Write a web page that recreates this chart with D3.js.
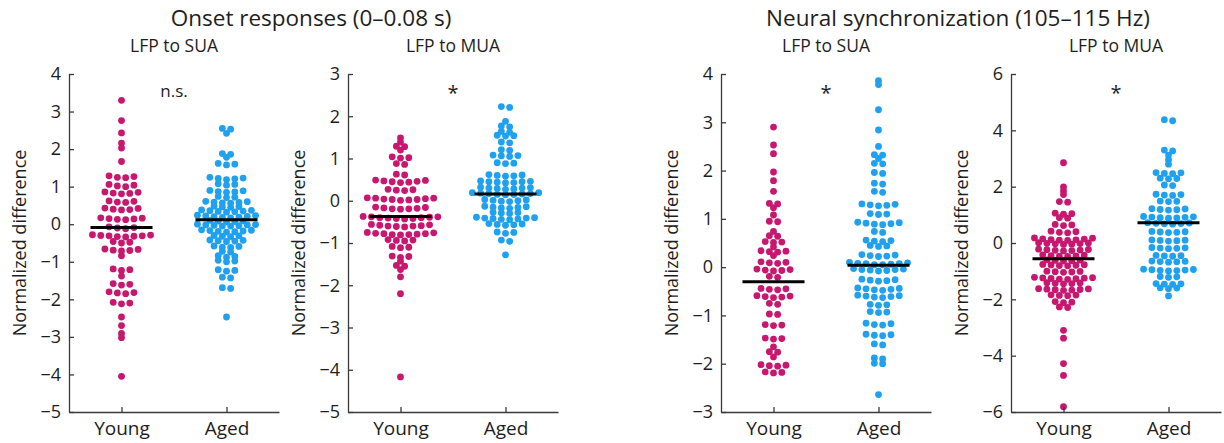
<!DOCTYPE html>
<html><head><meta charset="utf-8">
<script src="https://cdn.jsdelivr.net/npm/d3@7"></script>
<style>
body{margin:0;background:#fff}
text{font-family:"Open Sans",sans-serif;fill:#1e1e1e}
</style>
</head><body>
<svg id="c" width="1224" height="443"></svg>
<script>
// ---------- data ----------
const categories = ["Young", "Aged"];
const groupTitles = ["Onset responses (0–0.08 s)", "Neural synchronization (105–115 Hz)"];
const panelTitles = ["LFP to SUA", "LFP to MUA", "LFP to SUA", "LFP to MUA"];
const yDomains = [[-5, 4], [-5, 3], [-3, 4], [-6, 6]];
const yTicks = [
  [-5, -4, -3, -2, -1, 0, 1, 2, 3, 4],
  [-5, -4, -3, -2, -1, 0, 1, 2, 3],
  [-3, -2, -1, 0, 1, 2, 3, 4],
  [-6, -4, -2, 0, 2, 4, 6]
];
const significance = ["n.s.", "*", "*", "*"];
const medians = [[-0.09, 0.12], [-0.37, 0.16], [-0.30, 0.04], [-0.56, 0.72]];

const onsetSuaYoung = [3.30, 2.76, 2.43, 2.16, 2.03, 1.67,
  1.29, 1.27, 1.25, 1.24, 1.06, 1.04, 1.02, 1.00, 0.86, 0.85, 0.83, 0.82, 0.81,
  0.62, 0.61, 0.59, 0.58, 0.43, 0.42, 0.40, 0.39, 0.38, 0.17, 0.16, 0.15, 0.14, 0.13, 0.12,
  -0.07, -0.09, -0.10, -0.12, -0.28, -0.29, -0.30, -0.31, -0.31, -0.32, -0.33, -0.34,
  -0.46, -0.48, -0.50, -0.66, -0.67, -0.69, -0.70, -0.71, -0.84,
  -1.19, -1.21, -1.23, -1.38, -1.58, -1.60, -1.62, -1.80, -1.82, -1.83, -1.85,
  -2.08, -2.10, -2.12, -2.47, -2.70, -2.91, -3.02, -4.05];
const onsetSuaAged = [2.55, 2.53, 2.42, 1.88, 1.86, 1.78, 1.62, 1.60, 1.58,
  1.25, 1.23, 1.22, 1.21, 1.19, 1.08, 1.06, 1.04, 0.90, 0.89, 0.87, 0.86, 0.85,
  0.74, 0.72, 0.71, 0.61, 0.60, 0.59, 0.58, 0.57, 0.56, 0.48, 0.47, 0.46, 0.45,
  0.38, 0.37, 0.36, 0.35, 0.34, 0.33, 0.32, 0.24, 0.23, 0.22, 0.21, 0.20, 0.19, 0.18, 0.17,
  0.10, 0.09, 0.08, 0.07, 0.06, 0.00, -0.01, -0.02, -0.02, -0.03, -0.04, -0.05, -0.05,
  -0.15, -0.16, -0.17, -0.18, -0.19, -0.20, -0.21, -0.30, -0.31, -0.32, -0.33,
  -0.42, -0.43, -0.44, -0.45, -0.46, -0.58, -0.59, -0.61, -0.62, -0.72, -0.74,
  -0.84, -0.86, -0.88, -0.96, -0.98, -1.00, -1.21, -1.23, -1.25, -1.41, -1.43,
  -1.69, -1.71, -2.47];
const onsetMuaYoung = [1.49, 1.39, 1.29, 1.28, 1.20, 1.04, 1.02, 1.01, 0.88, 0.86, 0.63, 0.61,
  0.49, 0.48, 0.47, 0.46, 0.45, 0.44, 0.43, 0.27, 0.26, 0.25, 0.24,
  0.07, 0.06, 0.06, 0.05, 0.04, 0.03, 0.03, 0.02, 0.01,
  -0.15, -0.16, -0.17, -0.18, -0.19, -0.19, -0.20,
  -0.37, -0.38, -0.38, -0.39, -0.40, -0.40, -0.41, -0.42, -0.42, -0.43,
  -0.56, -0.57, -0.58, -0.59, -0.60, -0.60, -0.61, -0.62,
  -0.75, -0.76, -0.77, -0.78, -0.78, -0.79, -0.80, -0.80, -0.81,
  -0.92, -0.93, -0.94, -0.95, -1.08, -1.10, -1.11, -1.31, -1.32, -1.34, -1.43,
  -1.53, -1.55, -1.63, -1.80, -2.20, -4.17];
const onsetMuaAged = [2.23, 2.21, 1.88, 1.77, 1.75, 1.64, 1.62, 1.55, 1.54, 1.53,
  1.39, 1.37, 1.21, 1.19, 1.08, 1.07, 1.06, 1.05, 0.90, 0.89, 0.88,
  0.62, 0.61, 0.60, 0.59, 0.58, 0.47, 0.46, 0.45, 0.45, 0.44, 0.43, 0.42,
  0.32, 0.31, 0.30, 0.30, 0.29, 0.28, 0.27, 0.19, 0.19, 0.18, 0.17, 0.17, 0.16, 0.15, 0.15, 0.14,
  0.03, 0.02, 0.01, 0.00, -0.01, -0.02, -0.13, -0.14, -0.15, -0.16, -0.17, -0.18,
  -0.27, -0.28, -0.29, -0.30, -0.39, -0.40, -0.41, -0.41, -0.42, -0.43, -0.44, -0.45,
  -0.54, -0.55, -0.56, -0.57, -0.58, -0.74, -0.75, -0.77, -0.93, -0.96, -1.28];
const syncSuaYoung = [2.90, 2.53, 2.35, 1.97, 1.79, 1.57, 1.32, 1.31, 1.23, 1.08, 0.95, 0.94,
  0.74, 0.65, 0.64, 0.53, 0.52, 0.51, 0.42, 0.34, 0.33, 0.32, 0.31, 0.24,
  0.11, 0.10, 0.09, 0.08, -0.04, -0.05, -0.06, -0.07, -0.08, -0.19, -0.21,
  -0.44, -0.45, -0.46, -0.47, -0.59, -0.60, -0.61, -0.62, -0.63, -0.75, -0.77,
  -0.97, -0.98, -1.19, -1.20, -1.21, -1.47, -1.48, -1.49, -1.65, -1.75, -1.76, -1.86,
  -2.02, -2.03, -2.04, -2.05, -2.17, -2.18, -2.19];
const syncSuaAged = [3.86, 3.78, 3.26, 2.84, 2.50, 2.33, 2.32, 2.25, 2.15, 2.14, 1.96, 1.94,
  1.74, 1.72, 1.57, 1.55, 1.31, 1.30, 1.29, 1.28, 1.27, 1.11, 1.10, 1.09,
  0.93, 0.92, 0.91, 0.90, 0.89, 0.88, 0.74, 0.72, 0.56, 0.55, 0.54, 0.53, 0.45, 0.44, 0.43,
  0.26, 0.25, 0.24, 0.23, 0.22, 0.10, 0.09, 0.08, 0.07, 0.07, 0.06, 0.05, 0.05,
  -0.03, -0.04, -0.05, -0.05, -0.06, -0.07, -0.08, -0.25, -0.26, -0.27, -0.28, -0.29,
  -0.43, -0.44, -0.45, -0.46, -0.47, -0.48, -0.58, -0.59, -0.60, -0.61, -0.62, -0.63,
  -0.77, -0.78, -0.79, -0.92, -0.93, -0.94, -1.16, -1.17, -1.19, -1.20,
  -1.39, -1.40, -1.41, -1.42, -1.59, -1.61, -1.88, -1.90, -1.99, -2.00, -2.64];
const syncMuaYoung = [2.85, 1.99, 1.85, 1.72, 1.47, 1.45, 1.06, 1.04, 1.02, 0.90, 0.88,
  0.66, 0.64, 0.62, 0.42, 0.40, 0.38, 0.36, 0.18, 0.17, 0.15, 0.14, 0.12, 0.11, 0.10, 0.09,
  0.01, 0.00, -0.01, -0.02, -0.03, -0.04, -0.05, -0.22, -0.23, -0.24, -0.25, -0.26, -0.27, -0.28,
  -0.42, -0.43, -0.45, -0.46, -0.47, -0.48, -0.60, -0.61, -0.62, -0.63, -0.64,
  -0.76, -0.77, -0.78, -0.79, -0.80, -0.81, -1.00, -1.01, -1.02, -1.03, -1.04,
  -1.22, -1.23, -1.24, -1.25, -1.26, -1.27, -1.28, -1.29, -1.41, -1.42, -1.43, -1.44, -1.45,
  -1.62, -1.63, -1.64, -1.65, -1.66, -1.67, -1.68, -1.84, -1.85, -1.86, -1.87,
  -2.08, -2.10, -2.12, -2.27, -2.29, -3.10, -3.38, -4.28, -4.70, -5.81];
const syncMuaAged = [4.38, 4.34, 3.30, 3.27, 3.12, 2.96, 2.80, 2.50, 2.49, 2.47, 2.46,
  2.30, 2.29, 2.28, 2.06, 2.04, 1.73, 1.72, 1.70, 1.69, 1.49, 1.48, 1.47,
  1.22, 1.21, 1.19, 1.18, 1.17, 0.94, 0.93, 0.92, 0.91, 0.90, 0.89, 0.88,
  0.72, 0.71, 0.70, 0.69, 0.68, 0.67, 0.41, 0.40, 0.39, 0.38, 0.37,
  0.11, 0.10, 0.09, 0.08, 0.07, -0.16, -0.17, -0.18, -0.19, -0.20,
  -0.44, -0.45, -0.46, -0.47, -0.64, -0.65, -0.66, -0.67, -0.68,
  -0.93, -0.94, -0.95, -0.96, -0.97, -0.98, -0.99, -1.19, -1.20, -1.22,
  -1.44, -1.45, -1.46, -1.47, -1.59, -1.60, -1.62, -1.88];

const seriesByPanel = [
  [onsetSuaYoung, onsetSuaAged],
  [onsetMuaYoung, onsetMuaAged],
  [syncSuaYoung, syncSuaAged],
  [syncMuaYoung, syncMuaAged]
];

// ---------- layout / style ----------
const colors = ["#c8176f", "#1fa1ef"];
const panelX = [69, 348, 721, 1011];
const panelW = 210, plotTop = 74, plotBottom = 412;
const R = 3.4, SPACING = 8.3, ROW_PX = 3.4, HALF_LINE = 31;
const axisColor = "#3a3a3a";
const fmt = d3.format("d");

const svg = d3.select("#c");

function swarm(values, y, cx) {
  const pts = values.map(v => ({v, py: y(v)})).sort((a, b) => a.py - b.py);
  const rows = []; let cur = null;
  pts.forEach(p => {
    if (!cur || p.py - cur.start > ROW_PX) { cur = {start: p.py, items: []}; rows.push(cur); }
    cur.items.push(p);
  });
  rows.forEach(r => {
    const n = r.items.length;
    const order = [];
    for (let i = 0; i < n; i++) order.push(i % 2 === 0 ? i / 2 : n - 1 - (i - 1) / 2);
    r.items.forEach((p, i) => { p.px = cx + (order[i] - (n - 1) / 2) * SPACING; });
  });
  return pts;
}

seriesByPanel.forEach((series, pi) => {
  const x0 = panelX[pi];
  const x = d3.scalePoint().domain(categories).range([x0, x0 + panelW]).padding(0.5);
  const y = d3.scaleLinear().domain(yDomains[pi]).range([plotBottom, plotTop]);
  const g = svg.append("g");

  series.forEach((vals, ci) => {
    const pts = swarm(vals, y, x(categories[ci]));
    g.append("g").selectAll("circle").data(pts).join("circle")
      .attr("cx", d => d.px).attr("cy", d => d.py).attr("r", R)
      .attr("fill", colors[ci]);
  });
  categories.forEach((c, ci) => {
    g.append("line")
      .attr("x1", x(c) - HALF_LINE).attr("x2", x(c) + HALF_LINE)
      .attr("y1", y(medians[pi][ci])).attr("y2", y(medians[pi][ci]))
      .attr("stroke", "#000").attr("stroke-width", 3);
  });

  const ya = g.append("g").attr("transform", `translate(${x0},0)`)
    .call(d3.axisLeft(y).tickValues(yTicks[pi]).tickFormat(fmt)
      .tickSizeInner(-5).tickSizeOuter(0).tickPadding(8));
  const xa = g.append("g").attr("transform", `translate(0,${plotBottom})`)
    .call(d3.axisBottom(x).tickSizeInner(-5).tickSizeOuter(0).tickPadding(9));
  [ya, xa].forEach(a => {
    a.select(".domain").attr("stroke", axisColor).attr("stroke-width", 1.3);
    a.selectAll(".tick line").attr("stroke", axisColor).attr("stroke-width", 1.3);
    a.selectAll(".tick text").attr("fill", "#1e1e1e").style("font-family", '"Open Sans",sans-serif');
  });
  ya.selectAll(".tick text").style("font-size", "18px");
  xa.selectAll(".tick text").style("font-size", "19px").attr("dy", "0.73em");

  g.append("text")
    .attr("transform", `translate(${x0 - 49},${(plotTop + plotBottom) / 2}) rotate(-90)`)
    .attr("text-anchor", "middle").attr("dy", "0.35em")
    .style("font-size", "18px").text("Normalized difference");

  g.append("text").attr("x", x0 + panelW / 2).attr("y", 51.5)
    .attr("text-anchor", "middle").style("font-size", "17.5px").text(panelTitles[pi]);

  g.append("text").attr("x", x0 + panelW / 2).attr("y", significance[pi] === "*" ? 100 : 97)
    .attr("text-anchor", "middle").style("font-size", significance[pi] === "*" ? "20px" : "17px")
    .text(significance[pi]);
});

const titleX = [311, 958];
groupTitles.forEach((t, i) => {
  svg.append("text").attr("x", titleX[i]).attr("y", 26)
    .attr("text-anchor", "middle").style("font-size", "22.5px").text(t);
});
</script>
</body></html>
